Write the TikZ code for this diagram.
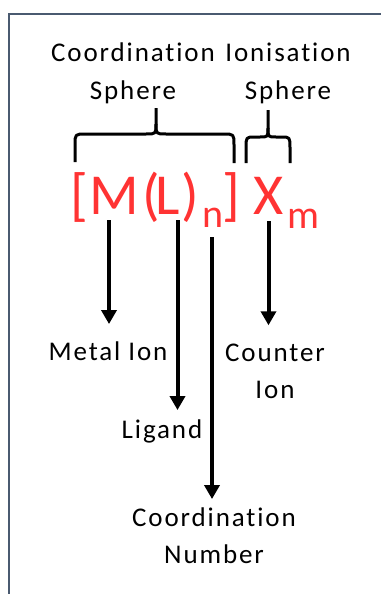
\documentclass[tikz,border=0pt]{standalone}
\usepackage{fontspec}
\setmainfont{Carlito}[RawFeature=-liga]
\usetikzlibrary{arrows.meta}
\definecolor{formred}{HTML}{FF3333}
\definecolor{framecol}{HTML}{4A5A70}
\begin{document}
\begin{tikzpicture}[x=1pt,y=-1pt,
  lbl/.style={inner sep=0pt, align=center, anchor=base,
    font=\fontsize{27}{37}\selectfont\addfontfeature{LetterSpace=7}},
  glyph/.style={inner sep=0pt, text=formred, anchor=base, font=\fontsize{58}{60}\selectfont},
  subglyph/.style={inner sep=0pt, text=formred, anchor=base, font=\fontsize{40}{42}\selectfont},
  arr/.style={line width=4pt, -{Triangle[width=15pt,length=14pt]}},
  bracepath/.style={line width=3pt, line join=round},
  framepath/.style={line width=2pt, draw=framecol}]
\useasboundingbox (0,0) rectangle (380,594);
% frame
\draw[framepath] (9,600) -- (9,14) -- (390,14);
% top labels (base = baseline of last line)
\node[lbl] (coordsph) at (133,99) {Coordination\\Sphere};
\node[lbl] (ionsph) at (288,99) {Ionisation\\Sphere};
% formula
\node[glyph] (lbr) at (79,214) {[};
\node[glyph] (M) at (114,214) {M};
\node[glyph] (lpar) at (151.5,214) {(};
\node[glyph, anchor=base west] (L) at (155.5,214) {L};
\node[glyph] (rpar) at (190,214) {)};
\node[subglyph] (n) at (213.5,227.5) {n};
\node[glyph] (rbr) at (231,214) {]};
\node[glyph] (X) at (269,214) {X};
\node[subglyph] (m) at (303.5,228) {m};
% braces
\draw[bracepath] (75,162) -- (75,145) .. controls (75,134) .. (86,134) -- (146,134) .. controls (156,134) .. (156,124) -- (156,108);
\draw[bracepath] (234,163) -- (234,145) .. controls (234,134) .. (223,134) -- (166,134) .. controls (156,134) .. (156,124);
\draw[bracepath] (246,163) -- (246,148) .. controls (246,137) .. (255,137) -- (260,137) .. controls (268,137) .. (268,128) -- (268,110);
\draw[bracepath] (290,163) -- (290,148) .. controls (290,137) .. (281,137) -- (276,137) .. controls (268,137) .. (268,128);
% bottom labels
\node[lbl] (metal) at (108,360) {Metal Ion};
\node[lbl] (counter) at (275,398) {Counter\\Ion};
\node[lbl] (ligand) at (162,438) {Ligand};
\node[lbl] (cnum) at (214,563) {Coordination\\Number};
% arrow starts
\coordinate (sM) at (109,220);
\coordinate (sL) at (177.5,220);
\coordinate (sn) at (212,237);
\coordinate (sX) at (268.5,221);
\draw[arr, shorten >=17pt] (sM) -- (sM |- metal.north);
\draw[arr, shorten >=9pt] (sL) -- (sL |- ligand.north);
\draw[arr, shorten >=8pt] (sn) -- (sn |- cnum.north);
\draw[arr, shorten >=18pt] (sX) -- (sX |- counter.north);
\end{tikzpicture}
\end{document}
